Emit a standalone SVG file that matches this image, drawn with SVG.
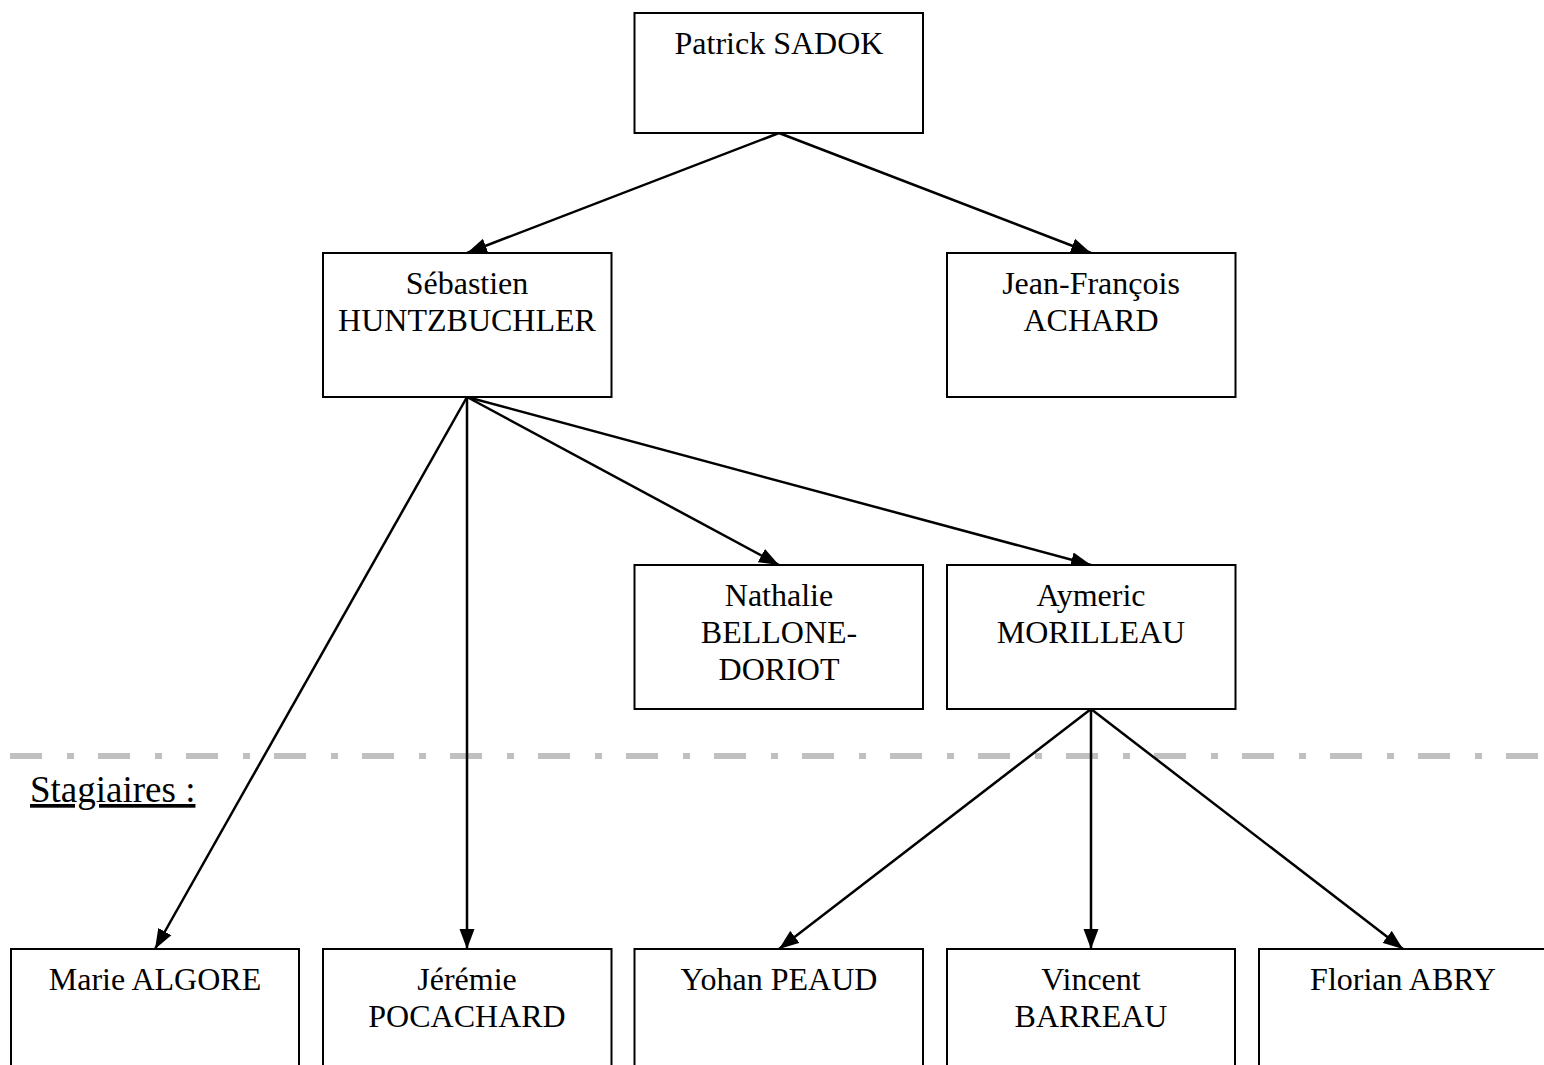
<svg xmlns="http://www.w3.org/2000/svg" width="1544" height="1065" viewBox="0 0 1544 1065">
  <style>
    .box { fill: #ffffff; stroke: #000000; stroke-width: 2; }
    .lbl { font-family: "Liberation Serif", "Times New Roman", serif; font-size: 32px; fill: #000000; text-anchor: middle; }
    .conn { stroke: #000000; stroke-width: 2.5; fill: none; marker-end: url(#arrow); }
    .sep { stroke: #c0c0c0; stroke-width: 6; stroke-dasharray: 32 25 7 24; fill: none; }
    .stag { font-family: "Liberation Serif", "Times New Roman", serif; font-size: 37px; fill: #000000; text-decoration: underline; }
  </style>
  <defs>
    <marker id="arrow" markerUnits="userSpaceOnUse" markerWidth="21" markerHeight="16" refX="20" refY="8" orient="auto">
      <path d="M0,0.5 L20,8 L0,15.5 Z" fill="#000000"/>
    </marker>
  </defs>
  <rect x="0" y="0" width="1544" height="1065" fill="#ffffff"/>

  <line class="sep" x1="10" y1="756" x2="1544" y2="756"/>
  <text class="stag" x="30" y="802">Stagiaires :</text>

  <g id="connectors">
    <line class="conn" x1="779" y1="133" x2="467" y2="253"/>
    <line class="conn" x1="779" y1="133" x2="1091" y2="253"/>
    <line class="conn" x1="467" y1="397" x2="155" y2="949"/>
    <line class="conn" x1="467" y1="397" x2="467" y2="949"/>
    <line class="conn" x1="467" y1="397" x2="779" y2="565"/>
    <line class="conn" x1="467" y1="397" x2="1091" y2="565"/>
    <line class="conn" x1="1091" y1="709" x2="779" y2="949"/>
    <line class="conn" x1="1091" y1="709" x2="1091" y2="949"/>
    <line class="conn" x1="1091" y1="709" x2="1403" y2="949"/>
  </g>

  <g id="node-sadok">
    <rect class="box" x="634.5" y="13" width="288.5" height="120"/>
    <text class="lbl" x="779" y="54">Patrick SADOK</text>
  </g>
  <g id="node-huntzbuchler">
    <rect class="box" x="323" y="253" width="288.5" height="144"/>
    <text class="lbl" x="467" y="294">Sébastien</text>
    <text class="lbl" x="467" y="331">HUNTZBUCHLER</text>
  </g>
  <g id="node-achard">
    <rect class="box" x="947" y="253" width="288.5" height="144"/>
    <text class="lbl" x="1091" y="294">Jean-François</text>
    <text class="lbl" x="1091" y="331">ACHARD</text>
  </g>
  <g id="node-bellone">
    <rect class="box" x="634.5" y="565" width="288.5" height="144"/>
    <text class="lbl" x="779" y="606">Nathalie</text>
    <text class="lbl" x="779" y="643">BELLONE-</text>
    <text class="lbl" x="779" y="680">DORIOT</text>
  </g>
  <g id="node-morilleau">
    <rect class="box" x="947" y="565" width="288.5" height="144"/>
    <text class="lbl" x="1091" y="606">Aymeric</text>
    <text class="lbl" x="1091" y="643">MORILLEAU</text>
  </g>
  <g id="node-algore">
    <rect class="box" x="11" y="949" width="288" height="150"/>
    <text class="lbl" x="155" y="990">Marie ALGORE</text>
  </g>
  <g id="node-pocachard">
    <rect class="box" x="323" y="949" width="288.5" height="150"/>
    <text class="lbl" x="467" y="990">Jérémie</text>
    <text class="lbl" x="467" y="1027">POCACHARD</text>
  </g>
  <g id="node-peaud">
    <rect class="box" x="634.5" y="949" width="288.5" height="150"/>
    <text class="lbl" x="779" y="990">Yohan PEAUD</text>
  </g>
  <g id="node-barreau">
    <rect class="box" x="947" y="949" width="288" height="150"/>
    <text class="lbl" x="1091" y="990">Vincent</text>
    <text class="lbl" x="1091" y="1027">BARREAU</text>
  </g>
  <g id="node-abry">
    <rect class="box" x="1259" y="949" width="288.5" height="150"/>
    <text class="lbl" x="1403" y="990">Florian ABRY</text>
  </g>
</svg>
